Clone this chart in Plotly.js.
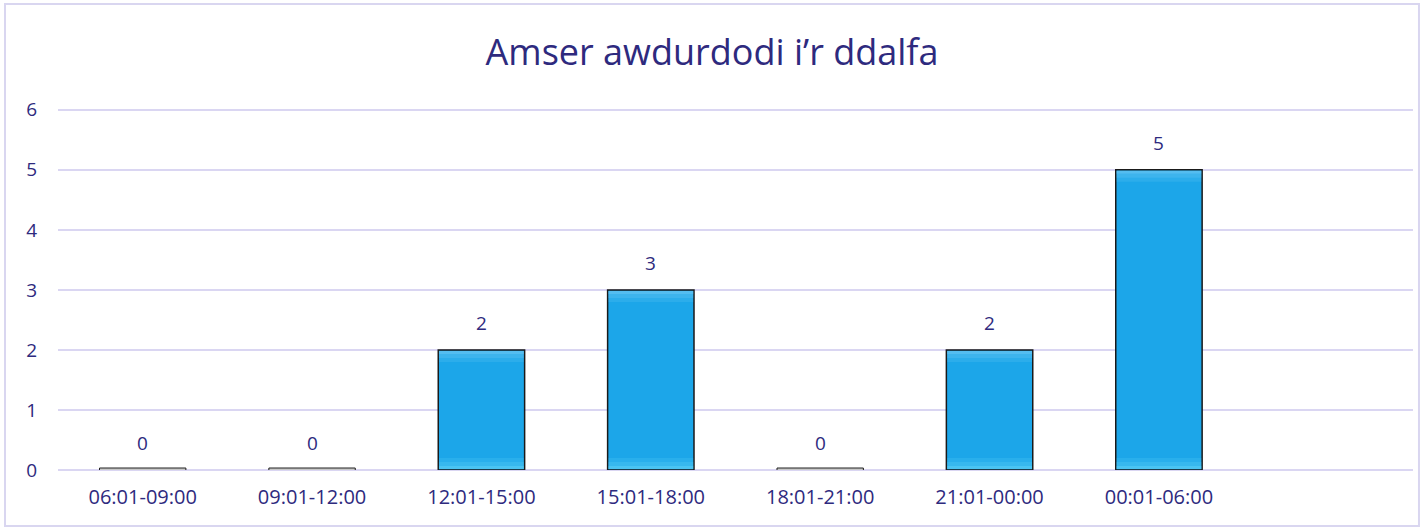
<!DOCTYPE html>
<html>
<head>
<meta charset="utf-8">
<script src="https://cdn.plot.ly/plotly-3.0.1.min.js"></script>
<style>html,body{margin:0;padding:0;background:#fff;}#chart{width:1424px;height:530px;}</style>
</head>
<body>
<div id="chart"></div>
<script>
const titleText = "Amser awdurdodi i’r ddalfa";
const categories = ["06:01-09:00","09:01-12:00","12:01-15:00","15:01-18:00","18:01-21:00","21:01-00:00","00:01-06:00"];
const counts = [0,0,2,3,0,2,5];
const yTicks = [0,1,2,3,4,5,6];

const navy = "#2E2A7E";
const grid = "#DAD6F2";
const fontFam = "'Open Sans', sans-serif";
const barWidth = 0.51;

const trace = {
  type: "bar",
  x: categories,
  y: counts,
  width: barWidth,
  marker: {color: "#1CA6E9", line: {color: "#1a1a1a", width: 1.5}},
  hoverinfo: "x+y",
  cliponaxis: false
};

const annotations = categories.map((c, i) => ({
  x: c, y: counts[i], xref: "x", yref: "y",
  text: String(counts[i]), showarrow: false,
  yanchor: "bottom", yshift: 12,
  font: {family: fontFam, size: 19, color: navy}
}));

const shapes = [];
// outer chart border
shapes.push({type: "rect", xref: "paper", yref: "paper",
  x0: -0.0391, x1: 1.0044, y0: -0.155, y1: 1.287,
  line: {color: "#D9D6F0", width: 2}, fillcolor: "rgba(0,0,0,0)", layer: "below"});
const bands = [[1, 4, 0.5], [4, 8, 0.3], [8, 12, 0.15]];
categories.forEach((c, i) => {
  const x0 = i - barWidth / 2, x1 = i + barWidth / 2;
  if (counts[i] === 0) {
    // zero-value bars drawn as a thin double outline on the baseline
    shapes.push({type: "rect", xref: "x", yref: "y", x0: x0, x1: x1,
      ysizemode: "pixel", yanchor: 0, y0: -2, y1: 2,
      line: {color: "#222", width: 1}, fillcolor: "#c8c8c8", layer: "above"});
  } else {
    // soft bevel highlights at the top and bottom of each bar
    bands.forEach(b => {
      shapes.push({type: "rect", xref: "x", yref: "y", x0: x0 + 0.004, x1: x1 - 0.004,
        ysizemode: "pixel", yanchor: counts[i], y0: -b[1], y1: -b[0],
        line: {width: 0}, fillcolor: "rgba(140,212,248," + b[2] + ")", layer: "above"});
      shapes.push({type: "rect", xref: "x", yref: "y", x0: x0 + 0.004, x1: x1 - 0.004,
        ysizemode: "pixel", yanchor: 0, y0: b[0], y1: b[1],
        line: {width: 0}, fillcolor: "rgba(120,225,252," + b[2] + ")", layer: "above"});
    });
    shapes.push({type: "line", xref: "x", yref: "y", x0: x0, x1: x1,
      ysizemode: "pixel", yanchor: 0, y0: -1, y1: -1,
      line: {color: "#4a5060", width: 2}, layer: "above"});
  }
});

const layout = {
  width: 1424, height: 530,
  margin: {l: 58, r: 11, t: 108, b: 60, pad: 0},
  paper_bgcolor: "#ffffff", plot_bgcolor: "#ffffff",
  showlegend: false,
  title: {text: titleText, xref: "container", x: 0.5, xanchor: "center",
          yref: "container", y: 1 - 52 / 530, yanchor: "middle",
          font: {family: fontFam, size: 36, color: navy}},
  xaxis: {type: "category", range: [-0.5, 7.5], showgrid: false, zeroline: false,
          showline: false, ticks: "", ticklabelstandoff: 13,
          tickfont: {family: fontFam, size: 20, color: navy}, fixedrange: true},
  yaxis: {range: [0, 6.03], tickvals: yTicks, ticktext: yTicks.map(String),
          showgrid: true, gridcolor: grid, gridwidth: 1.5,
          zeroline: true, zerolinecolor: grid, zerolinewidth: 1.5,
          showline: false, ticks: "", ticklabelstandoff: 20,
          tickfont: {family: fontFam, size: 19, color: navy}, fixedrange: true},
  annotations: annotations,
  shapes: shapes,
  bargap: 0.49
};

Plotly.newPlot("chart", [trace], layout, {displayModeBar: false, staticPlot: true});
</script>
</body>
</html>
